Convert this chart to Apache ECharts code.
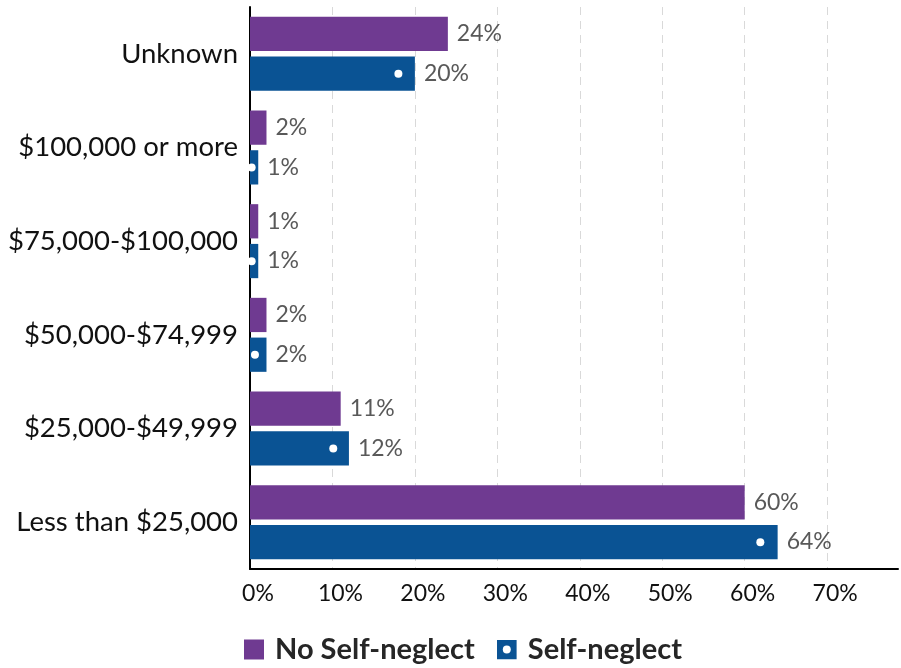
<!DOCTYPE html>
<html>
<head>
<meta charset="utf-8">
<script src="https://cdn.jsdelivr.net/npm/echarts@6/dist/echarts.min.js"></script>
<style>
  html, body { margin: 0; padding: 0; background: #fff; }
  #chart { width: 901px; height: 668px; }
</style>
</head>
<body>
<div id="chart"></div>
<script>
// income brackets, listed top to bottom
const categories = ['Unknown', '$100,000 or more', '$75,000-$100,000', '$50,000-$74,999', '$25,000-$49,999', 'Less than $25,000']
const noSelfNeglect = [24, 2, 1, 2, 11, 60]
const selfNeglect = [20, 1, 1, 2, 12, 64]
// where the white dot sits on each Self-neglect bar (in %)
const dotPos = [18, 0.2, 0.2, 0.6, 10.1, 61.9]
const xTicks = [0, 10, 20, 30, 40, 50, 60, 70]

const PURPLE = '#6F3A91'
const BLUE = '#0A5394'
const FONT = 'Lato'

const dotIcon = 'image://data:image/svg+xml;utf8,' + encodeURIComponent(
  "<svg xmlns='http://www.w3.org/2000/svg' width='20' height='20'>" +
  "<rect width='20' height='20' fill='" + BLUE + "'/>" +
  "<circle cx='10' cy='10' r='4' fill='#ffffff'/></svg>")

const chart = echarts.init(document.getElementById('chart'))

const barLabel = {
  show: true,
  position: 'right',
  distance: 9,
  formatter: '{c}%',
  color: '#595959',
  fontFamily: FONT,
  fontSize: 23,
}

chart.setOption({
  animation: false,
  backgroundColor: '#fff',
  grid: { left: 250, right: 0, top: 7, bottom: 99 },
  legend: {
    top: 630,
    left: 239,
    itemWidth: 20,
    itemHeight: 20,
    itemGap: 22,
    textStyle: {
      fontFamily: FONT, fontSize: 29, fontWeight: 'bold', color: '#262626',
      padding: [0, 0, 0, 6],
    },
    data: [
      { name: 'No Self-neglect', icon: 'rect' },
      { name: 'Self-neglect', icon: dotIcon },
    ],
  },
  xAxis: {
    type: 'value',
    min: 0,
    max: 78.6,
    interval: 10,
    axisLine: { show: true, lineStyle: { color: '#000', width: 2 } },
    axisTick: { show: false },
    axisLabel: {
      margin: 13,
      color: '#111',
      fontFamily: FONT,
      fontSize: 23,
      padding: [0, 0, 0, 16],
      formatter: v => xTicks.indexOf(v) >= 0 ? v + '%' : '',
    },
    splitLine: {
      show: true,
      showMaxLine: false,
      lineStyle: { type: [8, 6], color: '#d9d9d9', width: 1 },
    },
  },
  yAxis: {
    type: 'category',
    inverse: true,
    data: categories,
    axisLine: { show: true, lineStyle: { color: '#000', width: 2 } },
    axisTick: { show: false },
    axisLabel: { margin: 12, color: '#111', fontFamily: FONT, fontSize: 27.5 },
  },
  series: [
    {
      name: 'No Self-neglect',
      type: 'bar',
      data: noSelfNeglect,
      barCategoryGap: '21%',
      barGap: '16%',
      itemStyle: { color: PURPLE },
      label: barLabel,
    },
    {
      name: 'Self-neglect',
      type: 'bar',
      data: selfNeglect,
      itemStyle: { color: BLUE },
      label: barLabel,
    },
    {
      name: 'dots',
      type: 'scatter',
      data: dotPos,
      symbol: 'circle',
      symbolSize: 8,
      symbolOffset: [0, 20],
      itemStyle: { color: '#fff', opacity: 1 },
      silent: true,
      z: 5,
    },
  ],
})
</script>
</body>
</html>
